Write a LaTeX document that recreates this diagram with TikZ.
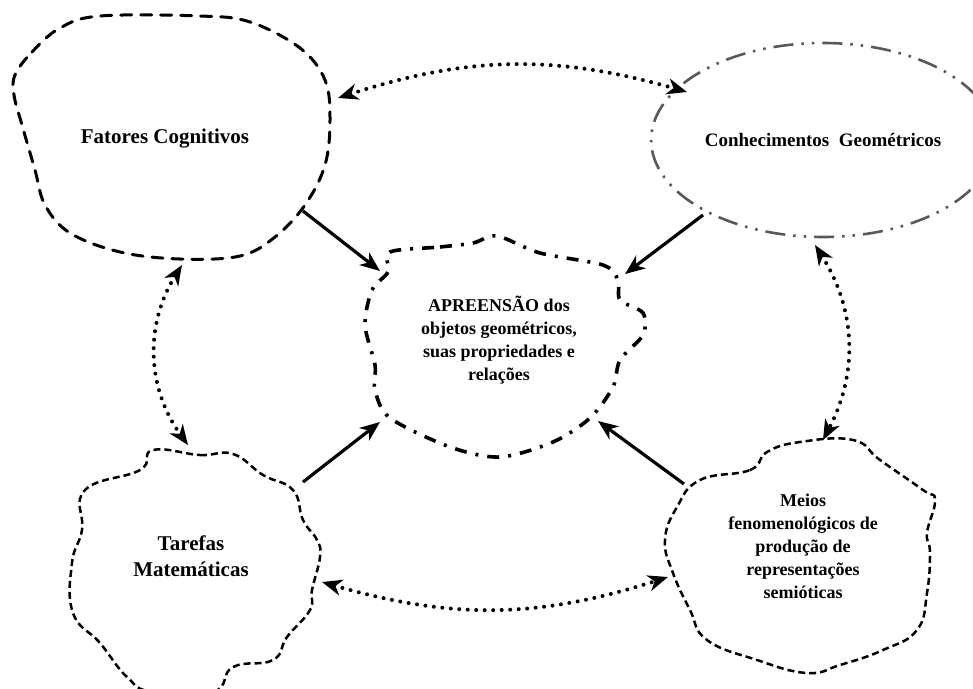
\documentclass[tikz,border=0pt]{standalone}
\usepackage{fontspec}
\setmainfont{Liberation Serif}
\usepackage{tikz}
\usetikzlibrary{shapes.geometric, arrows.meta, positioning}
\tikzset{
  blobfc/.style = {draw, line width=3pt, dash pattern=on 11pt off 9pt,
                   line cap=round},
  blobcg/.style = {draw=black!65, line width=2.6pt,
                   dash pattern=on 20pt off 8pt on 2.5pt off 8pt on 2.5pt off 8pt},
  blobap/.style = {draw, line width=3.6pt,
                   dash pattern=on 12pt off 9pt on 3pt off 9pt},
  blobwv/.style = {draw, line width=2.5pt, dash pattern=on 7pt off 4pt},
  lbl/.style    = {align=center, font=\bfseries\fontsize{#1}{23}\selectfont},
  lbl/.default  = 18,
  arr/.style    = {-{Stealth[length=20pt, width=16pt, inset=6pt]},
                   line width=3.2pt},
  darr/.style   = {{Stealth[length=20pt, width=16pt, inset=6pt]}-{Stealth[length=20pt, width=16pt, inset=6pt]},
                   line width=4pt, dash pattern=on 0pt off 8.5pt, line cap=round},
}

\begin{document}
\begin{tikzpicture}[x=1pt, y=-1pt]
  \useasboundingbox (0,0) rectangle (973,688);

  %% --- Fatores Cognitivos ---
  \draw[blobfc] plot[smooth cycle, tension=0.6] coordinates {
    (15,75) (32,52) (60,28) (100,16) (200,16) (250,22) (300,48) (325,80)
    (330,120) (325,165) (305,205) (275,237) (240,256) (180,259) (120,252)
    (70,233) (45,205) (35,170) (22,125) (14,95)};
  \node[lbl=21] (fc) at (165,139) {Fatores Cognitivos};

  %% --- Conhecimentos Geometricos ---
  \node[blobcg, ellipse, minimum width=302, minimum height=194,
        lbl=19] (cg) at (823,140) {Conhecimentos\ \ Geométricos};

  %% --- APREENSAO (centre) ---
  \draw[blobap] plot[smooth cycle, tension=0.5] coordinates {
    (390,252) (440,247) (473,243) (497,236) (540,253) (603,265) (618,280)
    (620,300) (643,313) (643,335) (620,360) (613,387) (590,418) (553,442)
    (500,457) (450,447) (390,418) (375,390) (375,365) (365,325) (372,290)
    (388,272)};
  \node[lbl] (ap) at (499,340)
        {APREENSÃO dos\\objetos geométricos,\\suas propriedades e\\relações};

  %% --- Tarefas Matematicas ---
  \draw[blobwv] plot[smooth cycle, tension=0.75] coordinates {
    (153,450) (200,455) (233,454) (263,475) (293,490)
    (303,520) (317,540) (320,557) (312,590) (310,610)
    (287,637) (273,660) (233,667) (213,692)
    (153,692) (127,677) (100,643) (73,613)
    (72,563) (82,530) (85,490) (140,470)};
  \node[lbl=21, text depth=0pt] (tm) at (191,556) {Tarefas\\[3pt]Matemáticas};

  %% --- Meios fenomenologicos ---
  \draw[blobwv] plot[smooth cycle, tension=0.75] coordinates {
    (700,480) (750,470) (767,452) (800,442) (853,440)
    (880,460) (923,490) (935,500) (927,533)
    (930,553) (927,593) (917,630) (883,650)
    (840,665) (807,673) (757,660) (707,640)
    (690,610) (673,573) (665,540) (677,507)};
  \node[lbl] (mf) at (803,546)
        {Meios\\fenomenológicos de\\produção de\\representações\\semióticas};

  %% --- Connector ends ---
  \coordinate (fc-se) at (303,211);
  \coordinate (fc-ne) at (338,98);
  \coordinate (fc-s)  at (182,265);
  \coordinate (cg-sw) at (703,215);
  \coordinate (cg-nw) at (687,92);
  \coordinate (cg-s)  at (815,245);
  \coordinate (ap-nw) at (380,271);
  \coordinate (ap-ne) at (625,274);
  \coordinate (ap-sw) at (380,422);
  \coordinate (ap-se) at (598,421);
  \coordinate (tm-ne) at (303,482);
  \coordinate (tm-n)  at (188,445);
  \coordinate (tm-e)  at (322,582);
  \coordinate (mf-nw) at (684,484);
  \coordinate (mf-n)  at (823,440);
  \coordinate (mf-w)  at (668,577);

  %% --- Arrows ---
  \draw[arr] (fc-se) -- (ap-nw);
  \draw[arr] (cg-sw) -- (ap-ne);
  \draw[arr] (tm-ne) -- (ap-sw);
  \draw[arr] (mf-nw) -- (ap-se);

  \draw[darr] (fc-ne) to[bend left=17]  (cg-nw);
  \draw[darr] (fc-s)  to[bend right=34] (tm-n);
  \draw[darr] (cg-s)  to[bend left=30]  (mf-n);
  \draw[darr] (tm-e)  to[bend right=17] (mf-w);

\end{tikzpicture}
\end{document}
